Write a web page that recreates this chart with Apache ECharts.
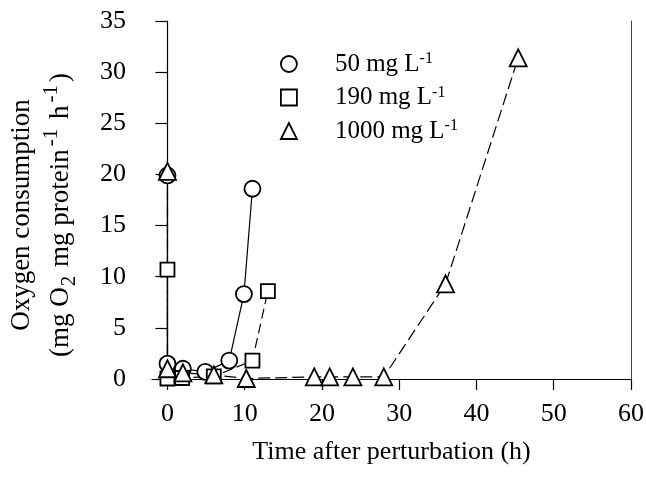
<!DOCTYPE html>
<html>
<head>
<meta charset="utf-8">
<script src="https://cdn.jsdelivr.net/npm/echarts@6/dist/echarts.min.js"></script>
<style>html,body{margin:0;padding:0;background:#fff}#c{width:646px;height:479px}</style>
</head>
<body>
<div id="c"></div>
<script>
// Data: [time (h), oxygen consumption]
const seriesNames = ['50 mg L-1', '190 mg L-1', '1000 mg L-1'];
const data50 = [[0, 19.9], [0, 1.5], [2, 1.0], [4.9, 0.7], [8, 1.8], [9.9, 8.3], [11, 18.6]];
const data190 = [[0, 10.7], [0, 0.05], [1.9, 0.1], [6, 0.25], [11, 1.8], [13, 8.6]];
const data1000 = [[0, 20.3], [0, 1.0], [2, 0.6], [6, 0.4], [10.2, 0.05], [19, 0.2], [21, 0.2], [24, 0.2], [28, 0.2], [36, 9.3], [45.4, 31.4]];
const xTicks = [0, 10, 20, 30, 40, 50, 60];
const yTicks = [0, 5, 10, 15, 20, 25, 30, 35];

const FONT = 'Liberation Serif';
const chart = echarts.init(document.getElementById('c'), null, {renderer: 'canvas'});

function mkSeries(name, data, symbol, size, dash) {
  return {
    name: name,
    type: 'line',
    data: data,
    symbol: symbol,
    symbolSize: size,
    showAllSymbol: true,
    itemStyle: {color: '#fff', borderColor: '#000', borderWidth: 1.8},
    lineStyle: {color: '#000', width: 1.2, type: dash},
    emphasis: {disabled: true},
    animation: false,
    z: 3
  };
}

chart.setOption({
  animation: false,
  backgroundColor: '#fff',
  textStyle: {fontFamily: FONT, color: '#000'},
  grid: {left: 152, right: 15, top: 21, bottom: 100, containLabel: false, outerBoundsMode: 'none'},
  legend: {
    orient: 'vertical',
    left: 275,
    top: 46,
    itemWidth: 16,
    itemHeight: 16,
    itemGap: 8,
    selectedMode: false,
    data: [
      {name: seriesNames[0], icon: 'circle'},
      {name: seriesNames[1], icon: 'rect'},
      {name: seriesNames[2], icon: 'triangle'}
    ],
    itemStyle: {color: '#fff', borderColor: '#000', borderWidth: 1.8},
    formatter: function (n) {
      const base = n.replace('-1', '');
      return '{t|' + base + '}{s|-1}';
    },
    textStyle: {
      fontFamily: FONT,
      rich: {
        t: {fontFamily: FONT, fontSize: 25, color: '#000', lineHeight: 26, padding: [0, 0, 0, 33]},
        s: {fontFamily: FONT, fontSize: 16, color: '#000', lineHeight: 16, verticalAlign: 'top'}
      }
    }
  },
  xAxis: {
    type: 'value',
    min: -2,
    max: 60,
    name: 'Time after perturbation (h)',
    nameLocation: 'middle',
    nameGap: 60,
    nameTextStyle: {fontFamily: FONT, fontSize: 26, color: '#000'},
    axisLine: {show: true, onZero: false, lineStyle: {color: '#000', width: 1.2}},
    axisTick: {show: true, inside: false, length: 11, customValues: xTicks, lineStyle: {color: '#000', width: 1.2}},
    axisLabel: {show: true, margin: 22, fontFamily: FONT, fontSize: 26, color: '#000', customValues: xTicks},
    splitLine: {show: false}
  },
  yAxis: [{
    type: 'value',
    min: 0,
    max: 35,
    interval: 5,
    name: '{a|Oxygen consumption}\n{a|(mg O}{sub|2}{a| mg protein}{sup|-1}{a| h}{sup|-1}{a|)}',
    nameLocation: 'middle',
    nameRotate: 90,
    nameGap: 72,
    nameTextStyle: {
      fontFamily: FONT,
      fontSize: 27,
      color: '#000',
      padding: [0, 30, 0, 0],
      rich: {
        a: {fontFamily: FONT, fontSize: 27, lineHeight: 39, color: '#000'},
        sub: {fontFamily: FONT, fontSize: 21, lineHeight: 20, verticalAlign: 'bottom', color: '#000', padding: [0, 2, 0, 1]},
        sup: {fontFamily: FONT, fontSize: 21, lineHeight: 20, verticalAlign: 'top', color: '#000', padding: [0, 3, 0, 3]}
      }
    },
    axisLine: {show: true, lineStyle: {color: '#000', width: 1.2}},
    axisTick: {show: true, inside: false, length: 12, lineStyle: {color: '#000', width: 1.2}},
    axisLabel: {show: true, margin: 26, fontFamily: FONT, fontSize: 26, color: '#000'},
    splitLine: {show: false}
  }, {
    type: 'value',
    min: 0,
    max: 35,
    interval: 5,
    position: 'right',
    axisLine: {show: true, lineStyle: {color: '#444', width: 1}},
    axisTick: {show: false},
    axisLabel: {show: false},
    splitLine: {show: false}
  }],
  series: [
    mkSeries(seriesNames[0], data50, 'circle', 16, 'solid'),
    mkSeries(seriesNames[1], data190, 'rect', 14, [10, 5]),
    mkSeries(seriesNames[2], data1000, 'triangle', 17, [12, 5])
  ]
});
</script>
</body>
</html>
